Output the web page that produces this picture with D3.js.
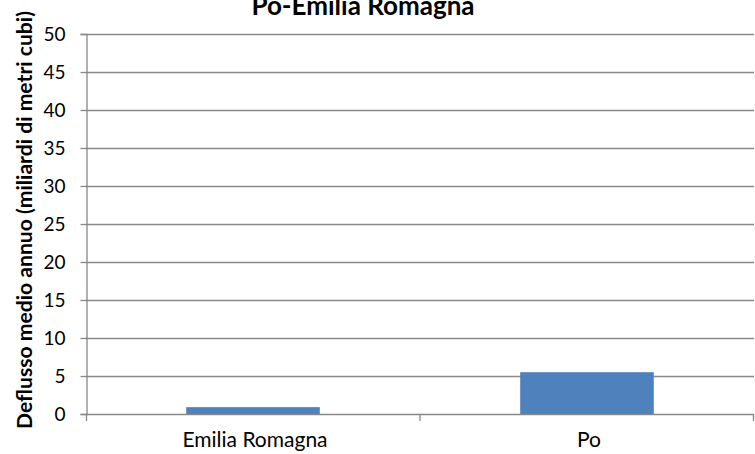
<!DOCTYPE html>
<html>
<head>
<meta charset="utf-8">
<script src="https://cdn.jsdelivr.net/npm/d3@7"></script>
<style>
html,body{margin:0;padding:0;background:#fff;}
svg{display:block;}
</style>
</head>
<body>
<svg id="chart" width="755" height="454"></svg>
<script>
const title = "Po-Emilia Romagna";
const yAxisTitle = "Deflusso medio annuo (miliardi di metri  cubi)";
const categories = ["Emilia Romagna", "Po"];
const values = [0.9, 5.5];
const yTicks = [0, 5, 10, 15, 20, 25, 30, 35, 40, 45, 50];

const svg = d3.select("#chart");
const W = 755, H = 454;
const m = {left: 86, right: 1, top: 34, bottom: 40};
const FONT = "Lato, 'Open Sans', sans-serif";

const x = d3.scaleBand().domain(categories).range([m.left, W - m.right]).paddingInner(0.6).paddingOuter(0.3);
const y = d3.scaleLinear().domain([0, 50]).range([H - m.bottom, m.top]);

// gridlines
svg.append("g").selectAll("line").data(yTicks.filter(d => d > 0)).join("line")
  .attr("x1", m.left).attr("x2", W - m.right)
  .attr("y1", d => Math.round(y(d)) + 0.5).attr("y2", d => Math.round(y(d)) + 0.5)
  .attr("stroke", "#888").attr("stroke-width", 1.3);

// bars
svg.append("g").selectAll("rect").data(categories).join("rect")
  .attr("x", d => x(d)).attr("width", x.bandwidth())
  .attr("y", (d, i) => y(values[i])).attr("height", (d, i) => y(0) - y(values[i]))
  .attr("fill", "#4f81bd");

// y axis
const yAxis = svg.append("g").attr("transform", `translate(${m.left + 0.5},0)`)
  .call(d3.axisLeft(y).tickValues(yTicks).tickSize(6).tickPadding(15));
yAxis.select(".domain").attr("stroke", "#888").attr("stroke-width", 1.3);
yAxis.selectAll(".tick line").attr("stroke", "#888").attr("stroke-width", 1.3);
yAxis.selectAll(".tick text").attr("font-family", FONT).attr("font-size", 19).attr("fill", "#000");

// x axis
const xBoundaries = [m.left + 0.5, (m.left + W - m.right) / 2, W - m.right - 0.5];
const xg = svg.append("g");
xg.append("line").attr("x1", m.left).attr("x2", W - m.right)
  .attr("y1", y(0) + 0.5).attr("y2", y(0) + 0.5).attr("stroke", "#888").attr("stroke-width", 1.3);
xg.selectAll("line.tk").data(xBoundaries).join("line").attr("class", "tk")
  .attr("x1", d => d).attr("x2", d => d)
  .attr("y1", y(0)).attr("y2", y(0) + 7).attr("stroke", "#888").attr("stroke-width", 1.3);
xg.selectAll("text").data(categories).join("text")
  .attr("x", d => x(d) + x.bandwidth() / 2 + 2).attr("y", 447)
  .attr("text-anchor", "middle").attr("font-family", FONT).attr("font-size", 21)
  .attr("fill", "#000").text(d => d);

// y axis title
svg.append("text")
  .attr("transform", "translate(32,220) rotate(-90)")
  .attr("text-anchor", "middle").attr("font-family", FONT).attr("font-weight", "bold")
  .attr("font-size", 21).attr("textLength", 418).attr("lengthAdjust", "spacingAndGlyphs")
  .attr("fill", "#000").text(yAxisTitle);

// title (cropped at top, as in the reference)
svg.append("text").attr("x", 363).attr("y", 15)
  .attr("text-anchor", "middle").attr("font-family", FONT).attr("font-weight", "bold")
  .attr("font-size", 26).attr("fill", "#000").text(title);
</script>
</body>
</html>
